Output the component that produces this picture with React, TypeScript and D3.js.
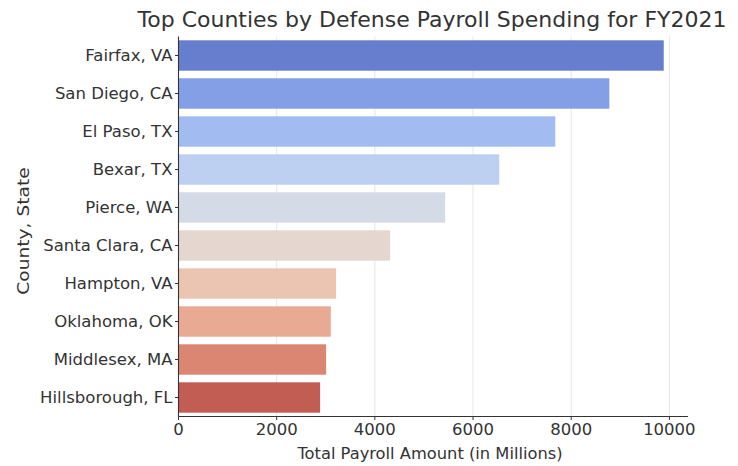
import React from "react";
import * as d3 from "d3";

const counties = [
  "Fairfax, VA",
  "San Diego, CA",
  "El Paso, TX",
  "Bexar, TX",
  "Pierce, WA",
  "Santa Clara, CA",
  "Hampton, VA",
  "Oklahoma, OK",
  "Middlesex, MA",
  "Hillsborough, FL",
];
const payroll = [9885, 8777, 7676, 6534, 5433, 4312, 3211, 3103, 3007, 2885];
const xTicks = [0, 2000, 4000, 6000, 8000, 10000];

// coolwarm colormap control points
const coolwarm = [
  [59, 76, 192], [68, 90, 204], [77, 104, 215], [87, 117, 225], [98, 130, 234],
  [108, 142, 241], [119, 154, 247], [130, 165, 251], [141, 176, 254], [152, 185, 255],
  [163, 194, 255], [174, 201, 253], [184, 208, 249], [194, 213, 244], [204, 217, 238],
  [213, 219, 230], [221, 221, 221], [229, 216, 209], [236, 211, 197], [241, 204, 184],
  [245, 196, 173], [247, 187, 160], [247, 177, 148], [247, 166, 135], [244, 154, 123],
  [241, 141, 111], [236, 127, 99], [229, 112, 88], [222, 96, 77], [213, 80, 66],
  [203, 62, 56], [192, 40, 47], [180, 4, 38],
];

const W = 738;
const H = 466;
const margin = { left: 178.5, right: 50, top: 36.5, bottom: 49.5 };

export default function App() {
  const innerRight = W - margin.right;
  const innerBottom = H - margin.bottom;
  const xMax = d3.max(payroll)! * 1.05;
  const x = d3.scaleLinear().domain([0, xMax]).range([margin.left, innerRight]);
  const y = d3
    .scaleBand<string>()
    .domain(counties)
    .range([margin.top, innerBottom])
    .paddingInner(0.2)
    .paddingOuter(0.1);

  const interp = d3.piecewise(
    d3.interpolateRgb,
    coolwarm.map((c) => d3.rgb(c[0], c[1], c[2]))
  );
  const colors = counties.map((_, i) => {
    const c = d3.hsl(interp((i + 1) / (counties.length + 1)));
    c.s *= 0.75;
    return c.formatHex();
  });

  const font = "DejaVu Sans, sans-serif";
  const textColor = "#333";
  const tickSize = 16.5;

  return (
    <svg width={W} height={H} style={{ position: "absolute", left: 0, top: 0, background: "#fff" }}>
      <rect x={0} y={0} width={W} height={H} fill="#fff" />
      {/* grid */}
      {xTicks.map((t) => (
        <line
          key={"g" + t}
          x1={x(t)}
          x2={x(t)}
          y1={margin.top}
          y2={innerBottom}
          stroke="#e6e6e6"
          strokeWidth={1}
        />
      ))}
      {/* bars */}
      {counties.map((c, i) => (
        <rect
          key={c}
          x={x(0)}
          y={y(c)}
          width={x(payroll[i]) - x(0)}
          height={y.bandwidth()}
          fill={colors[i]}
        />
      ))}
      {/* spines */}
      <line x1={margin.left} x2={margin.left} y1={margin.top} y2={innerBottom} stroke="#333" strokeWidth={1.1} />
      <line x1={margin.left} x2={innerRight} y1={innerBottom} y2={innerBottom} stroke="#333" strokeWidth={1.1} />
      {/* y ticks */}
      {counties.map((c) => (
        <g key={"yt" + c}>
          <line
            x1={margin.left - 3.5}
            x2={margin.left}
            y1={y(c)! + y.bandwidth() / 2}
            y2={y(c)! + y.bandwidth() / 2}
            stroke="#333"
          />
          <text
            x={margin.left - 6}
            y={y(c)! + y.bandwidth() / 2}
            textAnchor="end"
            dominantBaseline="central"
            fontFamily={font}
            fontSize={tickSize}
            fill={textColor}
          >
            {c}
          </text>
        </g>
      ))}
      {/* x ticks */}
      {xTicks.map((t) => (
        <g key={"xt" + t}>
          <line x1={x(t)} x2={x(t)} y1={innerBottom} y2={innerBottom + 3.5} stroke="#333" />
          <text
            x={x(t)}
            y={435}
            textAnchor="middle"
            fontFamily={font}
            fontSize={tickSize}
            fill={textColor}
          >
            {d3.format("d")(t)}
          </text>
        </g>
      ))}
      {/* axis labels */}
      <text
        x={430}
        y={459}
        textAnchor="middle"
        fontFamily={font}
        fontSize={16.3}
        fill={textColor}
      >
        Total Payroll Amount (in Millions)
      </text>
      <text
        transform={`translate(28.5, 231) rotate(-90) scale(1.13, 1)`}
        textAnchor="middle"
        fontFamily={font}
        fontSize={16.5}
        fill={textColor}
      >
        County, State
      </text>
      {/* title */}
      <text
        x={432}
        y={27}
        textAnchor="middle"
        fontFamily={font}
        fontSize={22}
        fill={textColor}
      >
        Top Counties by Defense Payroll Spending for FY2021
      </text>
    </svg>
  );
}
